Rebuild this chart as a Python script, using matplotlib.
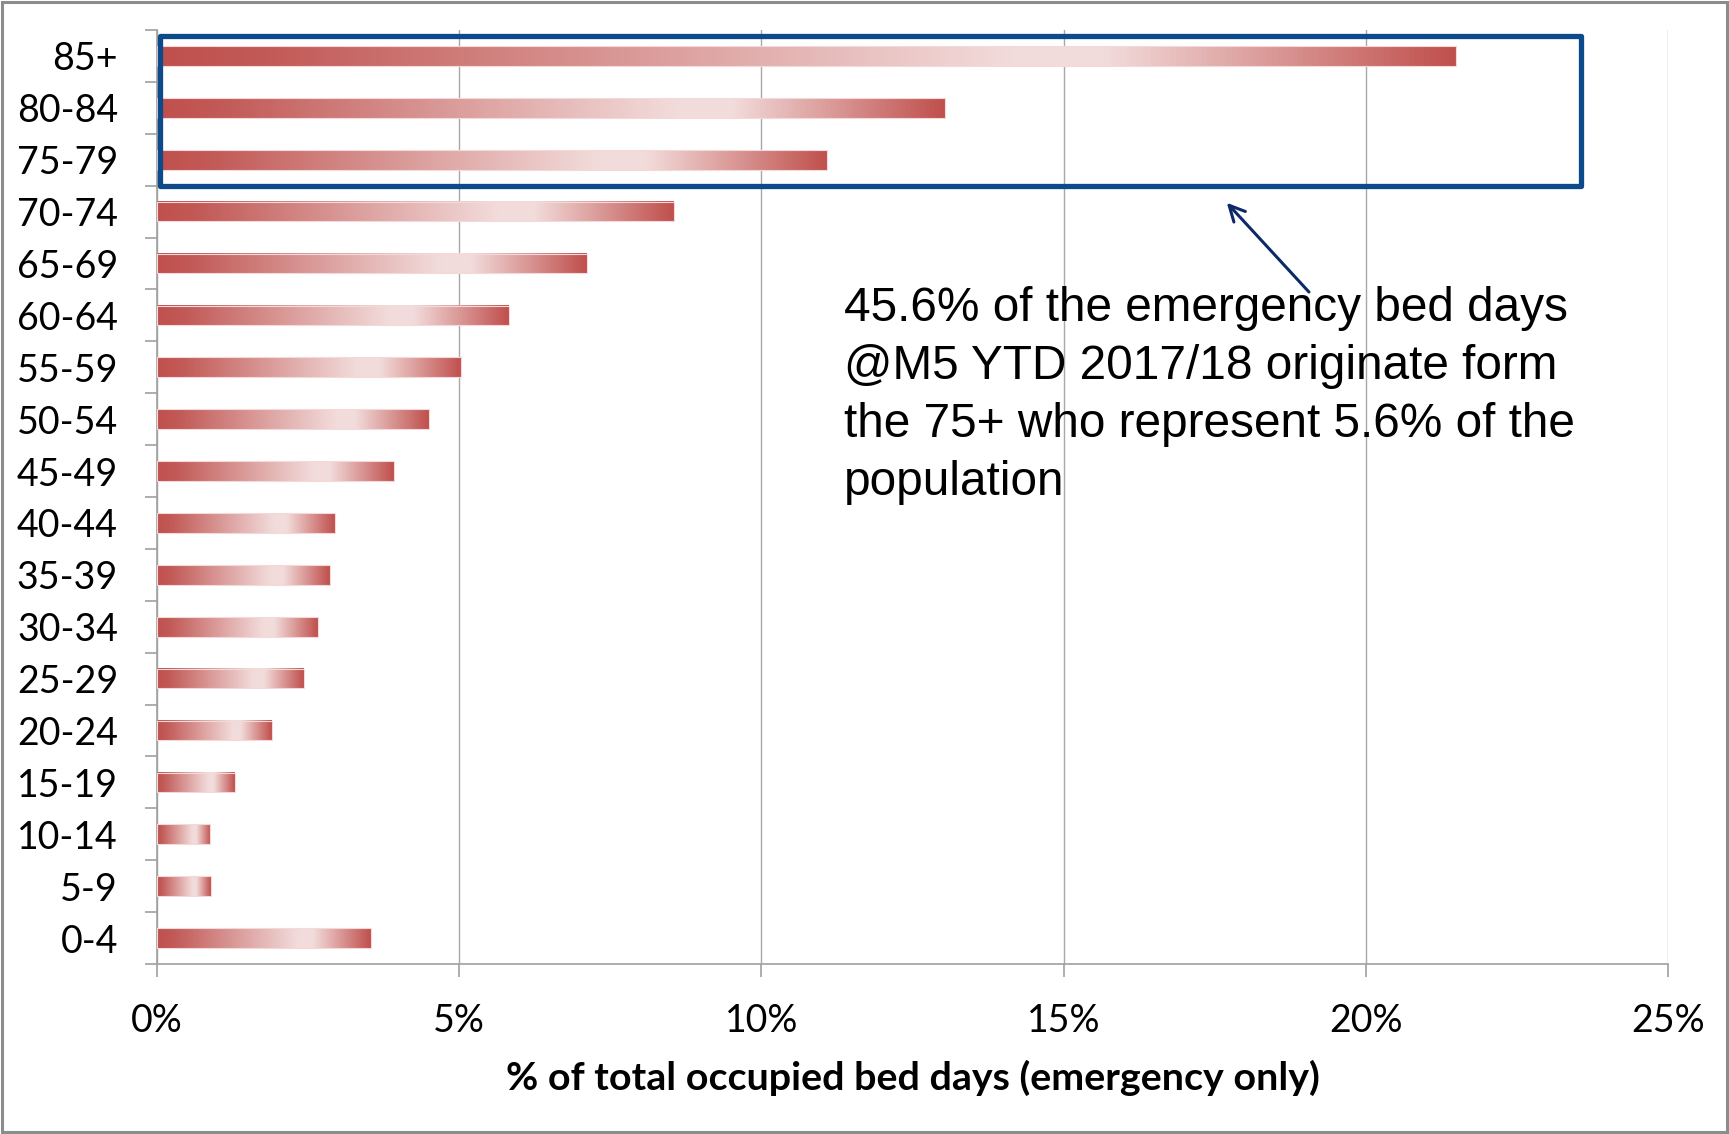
import matplotlib
matplotlib.use('Agg')
import matplotlib.pyplot as plt
import numpy as np
from matplotlib.colors import LinearSegmentedColormap
from matplotlib.patches import Rectangle

# ---- data ----
age_groups = ['0-4', '5-9', '10-14', '15-19', '20-24', '25-29', '30-34', '35-39',
              '40-44', '45-49', '50-54', '55-59', '60-64', '65-69', '70-74',
              '75-79', '80-84', '85+']
pct_bed_days = [3.54, 0.89, 0.88, 1.29, 1.90, 2.43, 2.66, 2.86, 2.94, 3.92,
                4.50, 5.03, 5.82, 7.11, 8.55, 11.09, 13.04, 21.50]
x_ticks = [0, 5, 10, 15, 20, 25]
x_tick_labels = ['0%', '5%', '10%', '15%', '20%', '25%']
highlight_groups = ['75-79', '80-84', '85+']
x_label = '% of total occupied bed days (emergency only)'
note = ("45.6% of the emergency bed days\n@M5 YTD 2017/18 originate form\n"
        "the 75+ who represent 5.6% of the\npopulation")

W, H = 1729, 1134
fig = plt.figure(figsize=(W / 100, H / 100), dpi=100)
L, R, T, B = 157, 1668, 30, 964
ax = fig.add_axes([L / W, 1 - B / H, (R - L) / W, (B - T) / H])

dark, light = '#C0504D', '#F2DCDB'
cmap = LinearSegmentedColormap.from_list(
    'bar', [(0, dark), (0.08, '#C25A57'), (0.66, light), (0.73, light), (1.0, dark)])
grad = np.linspace(0, 1, 256).reshape(1, -1)

y = np.arange(len(age_groups))
bars = ax.barh(y, pct_bed_days, height=0.38, color='none',
               edgecolor='#F3D9D8', linewidth=0.8, zorder=3)
for b in bars:
    x0, y0, w, h = b.get_x(), b.get_y(), b.get_width(), b.get_height()
    ax.imshow(grad, cmap=cmap, aspect='auto', interpolation='bilinear',
              extent=[x0, x0 + w, y0, y0 + h], zorder=2)

ax.set_xlim(0, 25)
ax.set_ylim(-0.5, len(age_groups) - 0.5)
ax.set_aspect('auto')

axis_grey = '#A0A0A0'
ax.set_xticks(x_ticks)
ax.set_xticklabels(x_tick_labels)
ax.xaxis.grid(True, color='#A8A8A8', linewidth=1.0)
ax.set_axisbelow(True)
for s in ['top', 'right']:
    ax.spines[s].set_visible(False)
for s in ['left', 'bottom']:
    ax.spines[s].set_color(axis_grey)
    ax.spines[s].set_linewidth(1.2)

lbl_font = 'Lato'
ax.set_yticks(y)
ax.set_yticklabels(age_groups, fontsize=27, family=lbl_font)
ax.set_yticks(np.arange(-0.5, len(age_groups), 1), minor=True)
ax.tick_params(axis='y', which='major', length=0, pad=28)
ax.tick_params(axis='y', which='minor', length=9, width=1.2, color=axis_grey)
ax.tick_params(axis='x', which='major', length=9, width=1.2, color=axis_grey, pad=19)
for t in ax.get_xticklabels():
    t.set_fontsize(27)
    t.set_family(lbl_font)

ax.set_xlabel(x_label, fontsize=28.4, family=lbl_font, fontweight='bold')
ax.xaxis.label.set_va('center')
ax.xaxis.set_label_coords(0.5, (B - 1078) / (B - T))

# highlight box around the 75+ groups
idx = [age_groups.index(g) for g in highlight_groups]
box_bottom = min(idx) - 0.5
box_top = max(idx) + 0.39
ax.add_patch(Rectangle((0.05, box_bottom), 23.56 - 0.05, box_top - box_bottom,
                       fill=False, edgecolor='#0D4A8C', linewidth=3.8,
                       joinstyle='round', zorder=5, clip_on=False))

# annotation arrow and note
ax.annotate('', xy=(17.70, 14.17), xytext=(19.06, 12.45),
            arrowprops=dict(arrowstyle='->', color='#0D2A66', lw=2.2,
                            mutation_scale=28, shrinkA=0, shrinkB=0),
            zorder=6)
# va='baseline' aligns the baseline of the last line
ax.text(11.36, 8.54, note, fontsize=34.4, family='Liberation Sans',
        ha='left', va='baseline', linespacing=1.375, color='black', zorder=6)

# outer frame
fig.add_artist(Rectangle((2 / W, 2 / H), 1 - 4 / W, 1 - 4 / H,
                         transform=fig.transFigure, fill=False,
                         edgecolor='#8C8C8C', linewidth=2.2))

fig.savefig('out.png', dpi=100, facecolor='white')
